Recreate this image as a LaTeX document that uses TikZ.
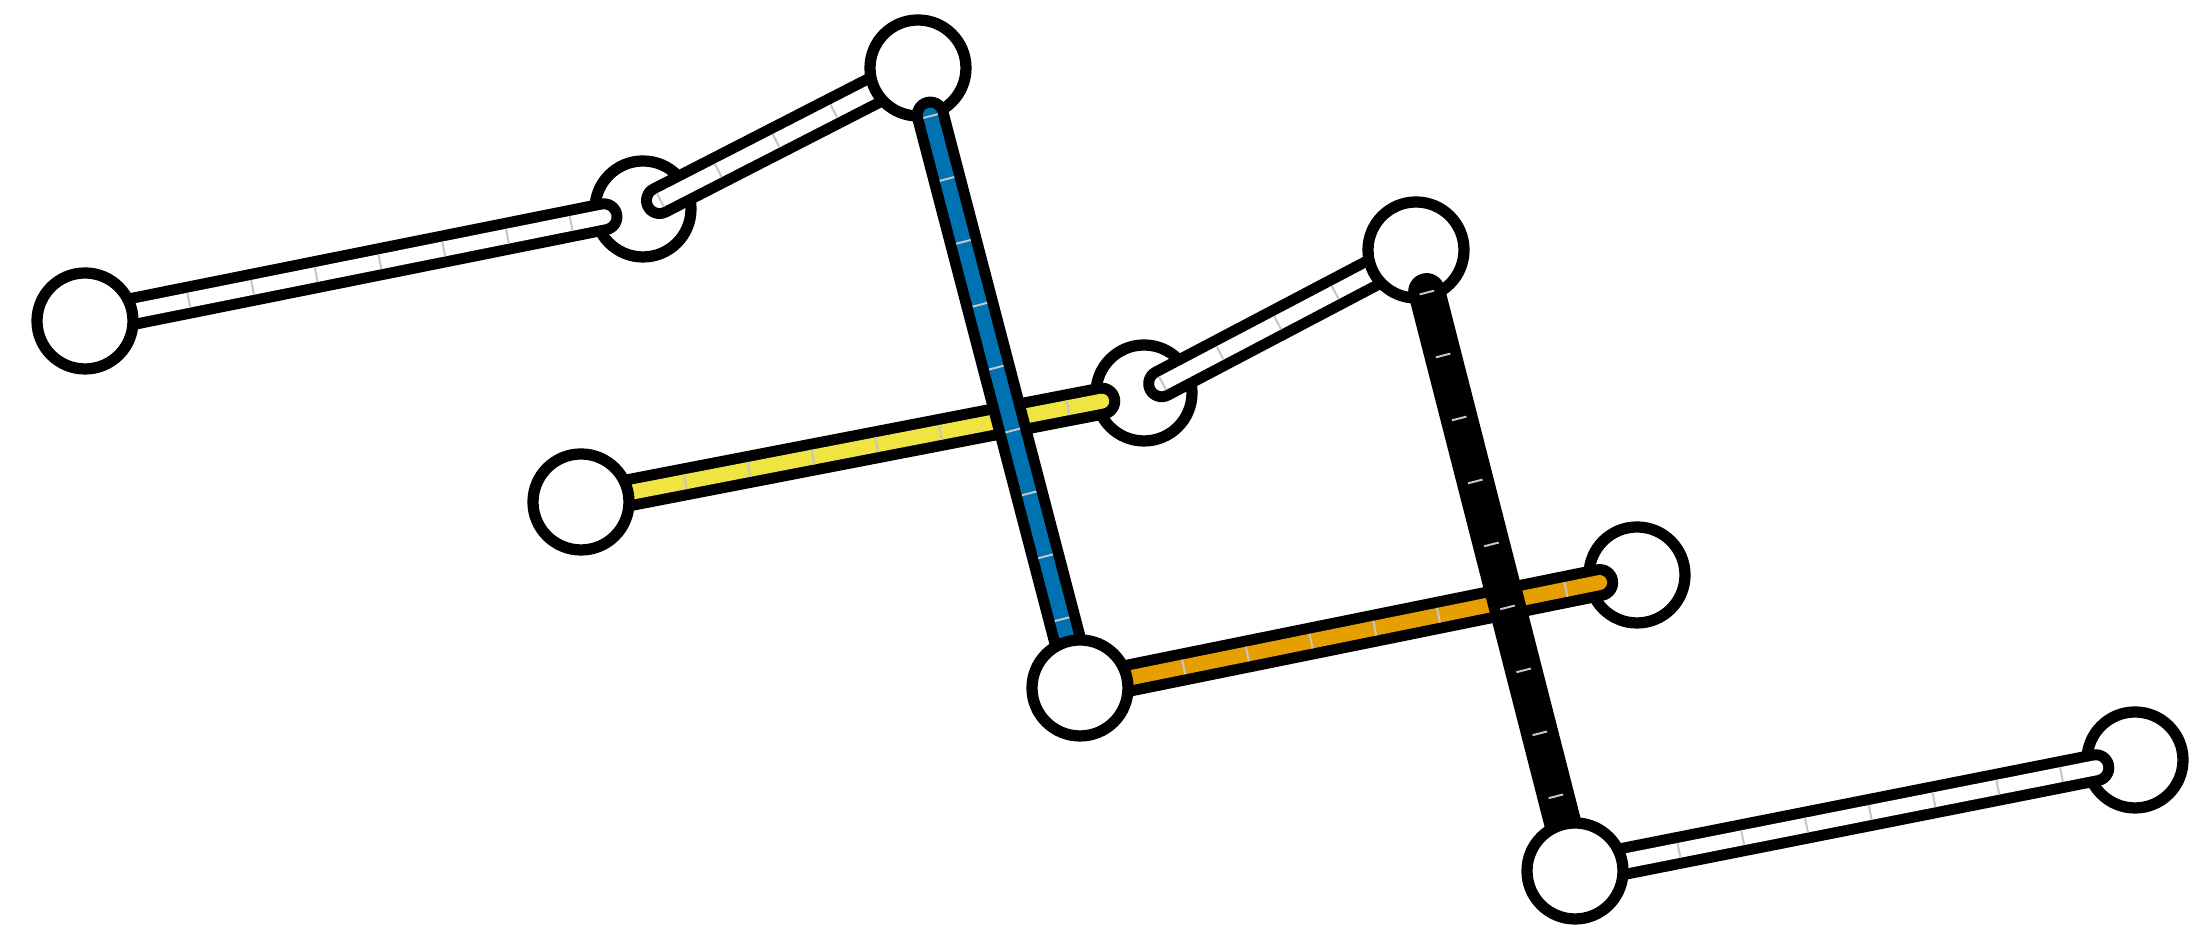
\documentclass[tikz,border=0pt]{standalone}
\usepackage{tikz}
\usetikzlibrary{calc}
\definecolor{rodblue}{HTML}{0072B2}
\definecolor{rodyellow}{HTML}{F0E442}
\definecolor{rodorange}{HTML}{E69F00}
\tikzstyle{joint} = [
    circle, 
    draw=black, 
    fill=white,
    line width=3.2pt, 
    minimum size=0.96cm,
    inner sep=0pt
]
\tikzstyle{rod} = [line width=0.37cm, line cap=round, draw=black]
\tikzstyle{core} = [line width=0.15cm, line cap=round]
\tikzstyle{tick} = [line width=0.15cm, dash pattern=on 0.02cm off 0.63cm, draw=gray!45]

% #1 start, #2 end, #3 fill colour
\newcommand{\drawrod}[3]{
    \draw[rod] #1 -- #2;
    \draw[core, draw=#3] #1 -- #2;
    \draw[tick] #1 -- #2;
}

\begin{document}
\begin{tikzpicture}

\useasboundingbox (0,0) rectangle (22.04,9.48);

% joint centres
\coordinate (A) at (0.85,6.27);
\coordinate (B) at (6.43,7.39);
\coordinate (C) at (9.18,8.80);
\coordinate (D) at (5.81,4.46);
\coordinate (E) at (11.44,5.55);
\coordinate (F) at (14.16,6.98);
\coordinate (G) at (10.80,2.60);
\coordinate (H) at (16.37,3.73);
\coordinate (I) at (15.75,0.77);
\coordinate (J) at (21.35,1.88);

% lowest joints
\node (jB) [joint] at (B) {};
\node (jE) [joint] at (E) {};
\node (jH) [joint] at (H) {};
\node (jJ) [joint] at (J) {};

\drawrod{($(A)!0.07!(B)$)}{($(A)!0.93!(B)$)}{white}
\drawrod{($(B)!0.06!(C)$)}{($(B)!0.87!(C)$)}{white}
\drawrod{($(D)!0.07!(E)$)}{($(D)!0.925!(E)$)}{rodyellow}
\drawrod{($(E)!0.065!(F)$)}{($(E)!0.87!(F)$)}{white}

\node (jA) [joint] at (A) {};
\node (jC) [joint] at (C) {};
\node (jD) [joint] at (D) {};
\node (jF) [joint] at (F) {};

\drawrod{($(C)!0.076!(G)$)}{($(C)!0.94!(G)$)}{rodblue}
\drawrod{($(G)!0.07!(H)$)}{($(G)!0.933!(H)$)}{rodorange}
\drawrod{($(F)!0.067!(I)$)}{($(F)!0.94!(I)$)}{black}
\drawrod{($(I)!0.07!(J)$)}{($(I)!0.93!(J)$)}{white}

% top joints
\node (jG) [joint] at (G) {};
\node (jI) [joint] at (I) {};

\end{tikzpicture}
\end{document}
